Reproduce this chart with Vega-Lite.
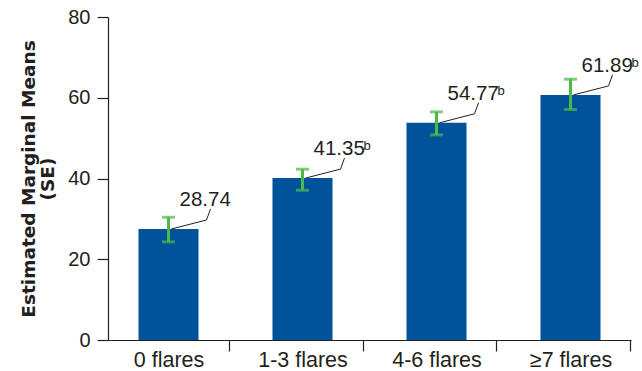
{
  "$schema": "https://vega.github.io/schema/vega-lite/v6.json",
  "width": 523,
  "height": 323,
  "autosize": {"type": "none"},
  "padding": {"left": 108, "top": 17, "right": 11, "bottom": 31},
  "background": "white",
  "config": {
    "view": {"stroke": null},
    "font": "Liberation Sans",
    "axis": {"domainColor": "#231f20", "tickColor": "#231f20", "labelColor": "#231f20", "titleColor": "#231f20", "grid": false, "domainWidth": 1.2, "tickWidth": 1.2}
  },
  "data": {
    "values": [
      {"group": "0 flares", "mean": 27.5, "lower": 24.3, "upper": 30.4, "label": "28.74", "sup": ""},
      {"group": "1-3 flares", "mean": 40.1, "lower": 37.1, "upper": 42.3, "label": "41.35", "sup": "b"},
      {"group": "4-6 flares", "mean": 53.8, "lower": 50.8, "upper": 56.5, "label": "54.77", "sup": "b"},
      {"group": "≥7 flares", "mean": 60.7, "lower": 57.1, "upper": 64.6, "label": "61.89", "sup": "b"}
    ]
  },
  "encoding": {
    "x": {
      "field": "group", "type": "nominal", "sort": null,
      "scale": {"paddingInner": 0.552, "paddingOuter": 0.2276},
      "axis": {"title": null, "labelAngle": 0, "labelFontSize": 21.5, "labelFont": "Liberation Sans", "labelBaseline": "alphabetic", "tickSize": 11, "labelPadding": 15, "tickOffset": 60, "labelOffset": -60}
    }
  },
  "layer": [
    {
      "mark": {"type": "bar", "color": "#00529b"},
      "encoding": {
        "y": {
          "field": "mean", "type": "quantitative",
          "scale": {"domain": [0, 80], "nice": false},
          "axis": {
            "values": [0, 20, 40, 60, 80],
            "title": ["Estimated Marginal Means", "(SE)"],
            "titleFont": "DejaVu Sans", "titleFontWeight": "bold", "titleFontSize": 18.5, "titleLineHeight": 19, "titlePadding": 10,
            "labelFontSize": 20, "labelFont": "Liberation Sans", "tickSize": 11, "labelPadding": 7
          }
        }
      }
    },
    {
      "mark": {"type": "rule", "color": "#4cb848", "strokeWidth": 3},
      "encoding": {"y": {"field": "lower", "type": "quantitative"}, "y2": {"field": "upper"}}
    },
    {
      "mark": {"type": "tick", "color": "#4cb848", "thickness": 3, "size": 13},
      "encoding": {"y": {"field": "lower", "type": "quantitative"}}
    },
    {
      "mark": {"type": "tick", "color": "#4cb848", "thickness": 3, "size": 13},
      "encoding": {"y": {"field": "upper", "type": "quantitative"}}
    },
    {
      "mark": {"type": "rule", "color": "#231f20", "strokeWidth": 1, "xOffset": 3, "x2Offset": 38, "yOffset": 0, "y2Offset": -9},
      "encoding": {
        "x2": {"field": "group", "bandPosition": 0.5},
        "y": {"field": "mean", "type": "quantitative"},
        "y2": {"field": "mean"}
      }
    },
    {
      "mark": {"type": "rule", "color": "#231f20", "strokeWidth": 1, "xOffset": 38, "x2Offset": 42, "yOffset": -9, "y2Offset": -20},
      "encoding": {
        "x2": {"field": "group", "bandPosition": 0.5},
        "y": {"field": "mean", "type": "quantitative"},
        "y2": {"field": "mean"}
      }
    },
    {
      "mark": {"type": "text", "align": "left", "baseline": "alphabetic", "dx": 11, "dy": -23, "fontSize": 20.5, "color": "#231f20", "font": "Liberation Sans"},
      "encoding": {"y": {"field": "mean", "type": "quantitative"}, "text": {"field": "label"}}
    },
    {
      "mark": {"type": "text", "align": "left", "baseline": "alphabetic", "dx": 61, "dy": -28, "fontSize": 13, "color": "#231f20", "font": "Liberation Sans"},
      "encoding": {"y": {"field": "mean", "type": "quantitative"}, "text": {"field": "sup"}}
    }
  ]
}
